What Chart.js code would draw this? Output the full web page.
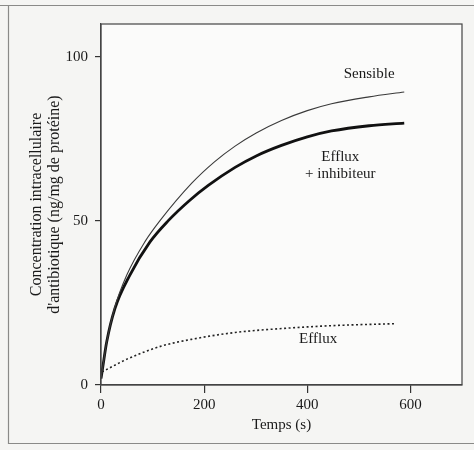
<!DOCTYPE html>
<html>
<head>
<meta charset="utf-8">
<script src="https://cdn.jsdelivr.net/npm/chart.js@4/dist/chart.umd.min.js"></script>
<style>
  html, body { margin: 0; padding: 0; background: #f5f5f3; }
  #wrap { width: 474px; height: 450px; position: relative; }
</style>
</head>
<body>
<div id="wrap"><canvas id="c" width="474" height="450"></canvas></div>
<script>
// ---- data ----
const timeSensible = [0, 3, 11, 26, 50, 85, 114, 176, 220, 260, 301, 350, 400, 447, 520, 588];
const concSensible = [2, 5, 13.1, 23.3, 33.5, 43.6, 50, 61.5, 68, 72.8, 76.8, 80.6, 83.6, 85.7, 87.8, 89.3];

const timeInhib = [0, 3, 11, 27, 56, 95, 130, 170, 208, 260, 301, 350, 400, 447, 520, 588];
const concInhib = [2, 5, 13.1, 23.3, 33.5, 43.6, 50, 56, 60.8, 66.3, 69.8, 73, 75.6, 77.4, 79, 79.8];

const timeEfflux = [2, 30, 52, 118, 182, 260, 350, 450, 573];
const concEfflux = [4, 6.3, 8, 11.9, 14.1, 16, 17.2, 18.1, 18.7];

const xTicks = [0, 200, 400, 600];
const yTicks = [0, 50, 100];

const seriesLabels = ["Sensible", "Efflux + inhibiteur", "Efflux"];
// curve annotations: text lines and anchor in data units
const annoText = [["Sensible"], ["Efflux", "+ inhibiteur"], ["Efflux"]];
const annoX = [520, 464, 421];
const annoY = [94.8, 69.6, 13.9];

const xTitle = "Temps (s)";
const yTitle = ["Concentration intracellulaire", "d'antibiotique (ng/mg de protéine)"];

function pts(xs, ys) { return xs.map((x, i) => ({ x: x, y: ys[i] })); }

const FONT = "'Liberation Serif', 'DejaVu Serif', serif";

const framePlugin = {
  id: 'frame',
  beforeDraw(chart) {
    const { ctx, chartArea: a } = chart;
    ctx.save();
    ctx.fillStyle = '#fbfbfa';
    ctx.fillRect(a.left, a.top, a.right - a.left, a.bottom - a.top);
    // outer figure frame (scan border)
    ctx.strokeStyle = '#8a8a88';
    ctx.lineWidth = 1.2;
    ctx.beginPath();
    ctx.moveTo(0, 5.5); ctx.lineTo(474, 5.5);
    ctx.moveTo(8.5, 5.5); ctx.lineTo(8.5, 443.5);
    ctx.lineTo(474, 443.5);
    ctx.stroke();
    ctx.restore();
  },
  afterDraw(chart) {
    const { ctx, chartArea: a, scales } = chart;
    ctx.save();
    ctx.strokeStyle = '#444';
    ctx.lineWidth = 1.2;
    ctx.strokeRect(a.left, a.top, a.right - a.left, a.bottom - a.top);
    ctx.fillStyle = '#1a1a1a';
    ctx.font = '15px ' + FONT;
    ctx.textAlign = 'center';
    ctx.textBaseline = 'middle';
    annoText.forEach((lines, i) => {
      const px = scales.x.getPixelForValue(annoX[i]);
      const py = scales.y.getPixelForValue(annoY[i]);
      lines.forEach((t, j) => ctx.fillText(t, px, py + j * 17));
    });
    ctx.restore();
  }
};

new Chart(document.getElementById('c'), {
  type: 'line',
  data: {
    datasets: [
      { label: seriesLabels[0], data: pts(timeSensible, concSensible),
        borderColor: '#3a3a3a', borderWidth: 1.1, pointRadius: 0,
        cubicInterpolationMode: 'monotone', fill: false },
      { label: seriesLabels[1], data: pts(timeInhib, concInhib),
        borderColor: '#111', borderWidth: 2.8, pointRadius: 0,
        cubicInterpolationMode: 'monotone', fill: false },
      { label: seriesLabels[2], data: pts(timeEfflux, concEfflux),
        borderColor: '#222', borderWidth: 1.6, borderDash: [2, 2.5], pointRadius: 0,
        cubicInterpolationMode: 'monotone', fill: false }
    ]
  },
  options: {
    responsive: false,
    animation: false,
    layout: { padding: { left: 0, top: 24, right: 12, bottom: 0 } },
    plugins: { legend: { display: false }, tooltip: { enabled: false } },
    scales: {
      x: {
        type: 'linear', min: 0, max: 700,
        afterBuildTicks(s) { s.ticks = xTicks.map(v => ({ value: v })); },
        afterFit(s) { s.height = 65; },
        grid: { drawOnChartArea: false, drawTicks: true, tickLength: 8, color: '#333', lineWidth: 1.2 },
        border: { display: true, color: '#444', width: 1.2 },
        ticks: { color: '#1a1a1a', padding: 3, maxRotation: 0, font: { family: FONT, size: 15 } },
        title: { display: true, text: xTitle, color: '#1a1a1a', padding: { top: 2, bottom: 16 },
                 font: { family: FONT, size: 15 } }
      },
      y: {
        type: 'linear', min: 0, max: 110,
        afterBuildTicks(s) { s.ticks = yTicks.map(v => ({ value: v })); },
        afterFit(s) { s.width = 101; },
        grid: { drawOnChartArea: false, drawTicks: true, tickLength: 6, color: '#333', lineWidth: 1.2 },
        border: { display: true, color: '#444', width: 1.2 },
        ticks: { color: '#1a1a1a', padding: 7, font: { family: FONT, size: 15 } },
        title: { display: true, text: yTitle, color: '#1a1a1a', padding: { top: 28, bottom: 0 },
                 font: { family: FONT, size: 16, lineHeight: 1.1 } }
      }
    }
  },
  plugins: [framePlugin]
});
</script>
</body>
</html>
